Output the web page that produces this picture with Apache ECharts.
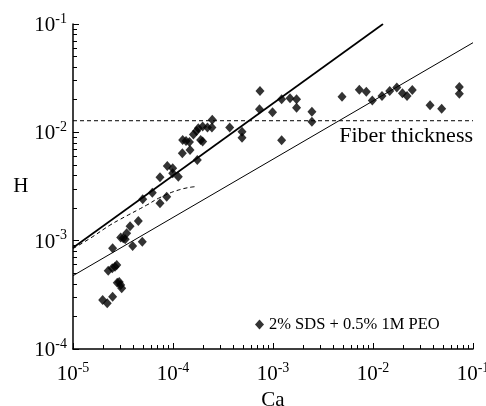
<!DOCTYPE html>
<html><head><meta charset="utf-8">
<script src="https://cdn.jsdelivr.net/npm/echarts@6/dist/echarts.min.js"></script>
<style>html,body{margin:0;padding:0;background:#fff}#c{width:486px;height:406px}</style>
</head><body><div id="c"></div>
<script>
// ---- data ----
const xTickExps = [-5, -4, -3, -2, -1];
const yTickExps = [-4, -3, -2, -1];
const minorMultipliers = [2, 3, 4, 5, 6, 7, 8, 9];
const seriesName = '2% SDS + 0.5% 1M PEO';
const caValues = [1.98e-5,2.20e-5,2.49e-5,2.25e-5,2.47e-5,2.63e-5,2.74e-5,2.77e-5,2.90e-5,3.00e-5,3.07e-5,2.49e-5,3.00e-5,3.18e-5,3.33e-5,3.44e-5,3.72e-5,4.50e-5,3.95e-5,4.93e-5,4.98e-5,6.21e-5,7.41e-5,8.65e-5,7.41e-5,8.77e-5,9.93e-5,9.93e-5,1.13e-4,1.24e-4,1.48e-4,1.25e-4,1.35e-4,1.46e-4,1.75e-4,1.60e-4,1.72e-4,1.89e-4,1.98e-4,1.79e-4,1.98e-4,2.21e-4,2.45e-4,2.47e-4,3.69e-4,4.90e-4,4.90e-4,7.33e-4,7.41e-4,9.89e-4,1.22e-3,1.48e-3,1.72e-3,1.72e-3,2.45e-3,2.45e-3,1.22e-3,4.90e-3,7.30e-3,8.57e-3,9.84e-3,1.23e-2,1.47e-2,1.73e-2,1.97e-2,2.19e-2,2.47e-2,3.72e-2,4.86e-2,7.30e-2,7.30e-2];
const hValues = [2.83e-4,2.64e-4,3.03e-4,5.27e-4,5.55e-4,5.74e-4,5.95e-4,4.08e-4,4.15e-4,3.89e-4,3.63e-4,8.49e-4,1.07e-3,1.05e-3,1.03e-3,1.17e-3,1.36e-3,1.52e-3,8.91e-4,9.77e-4,2.41e-3,2.77e-3,2.21e-3,2.54e-3,3.84e-3,4.89e-3,4.66e-3,4.18e-3,3.89e-3,6.40e-3,6.86e-3,8.49e-3,8.31e-3,8.13e-3,5.55e-3,9.54e-3,1.03e-2,8.49e-3,8.22e-3,1.09e-2,1.13e-2,1.11e-2,1.11e-2,1.31e-2,1.11e-2,1.01e-2,8.90e-3,1.63e-2,2.41e-2,1.53e-2,2.02e-2,2.06e-2,2.02e-2,1.69e-2,1.55e-2,1.25e-2,8.43e-3,2.13e-2,2.47e-2,2.37e-2,1.97e-2,2.16e-2,2.41e-2,2.60e-2,2.29e-2,2.17e-2,2.46e-2,1.78e-2,1.65e-2,2.62e-2,2.27e-2];
const thickLineCa = [1e-5, 1.26e-2];
const thickLineH = [8.6e-4, 0.1];
const thinLineCa = [1e-5, 0.1];
const thinLineH = [4.75e-4, 0.0672];
const fiberCa = [1e-5, 0.1];
const fiberH = [0.0128, 0.0128];
const curveCa = [1e-5, 1.48e-5, 2.34e-5, 2.95e-5, 5.46e-5, 7.41e-5, 1.17e-4, 1.66e-4];
const curveH = [8.45e-4, 1.05e-3, 1.39e-3, 1.57e-3, 2.13e-3, 2.50e-3, 2.96e-3, 3.15e-3];
const fiberLabel = 'Fiber thickness';

// ---- chart ----
const zip = (a, b) => a.map((v, i) => [v, b[i]]);
const minorVals = (exps) => {
  const out = [];
  for (let i = 0; i < exps.length - 1; i++) minorMultipliers.forEach(m => out.push(m * Math.pow(10, exps[i])));
  return out;
};
const FONT = '"Liberation Serif", "Times New Roman", serif';
const expLabel = v => '{b|10}{s|' + Math.round(Math.log10(v)) + '}';
const rich = {
  b: { fontFamily: FONT, fontSize: 21, color: '#000', verticalAlign: 'bottom' },
  s: { fontFamily: FONT, fontSize: 14, color: '#000', verticalAlign: 'top', padding: [0, 0, 10, 0] }
};
const xMin = Math.pow(10, xTickExps[0]), xMax = Math.pow(10, xTickExps[xTickExps.length - 1]);
const yMin = Math.pow(10, yTickExps[0]), yMax = Math.pow(10, yTickExps[yTickExps.length - 1]);

const chart = echarts.init(document.getElementById('c'), null, { renderer: 'canvas' });
chart.setOption({
  animation: false,
  backgroundColor: '#fff',
  grid: { left: 73, right: 13, top: 24, bottom: 57, containLabel: false, outerBoundsMode: 'none' },
  xAxis: [{
    type: 'log', logBase: 10, min: xMin, max: xMax, position: 'bottom',
    name: 'Ca', nameLocation: 'middle', nameGap: 33,
    nameTextStyle: { fontFamily: FONT, fontSize: 21, color: '#000' },
    axisLine: { lineStyle: { color: '#000', width: 1.5 } },
    axisTick: { inside: true, length: 6, lineStyle: { color: '#000', width: 1 } },
    axisLabel: { formatter: expLabel, rich: rich, margin: 12, showMaxLabel: true, hideOverlap: false },
    splitLine: { show: false }
  }, {
    type: 'log', logBase: 10, min: xMin, max: xMax, position: 'bottom',
    axisLine: { show: false },
    axisTick: { show: true, inside: true, length: 4, customValues: minorVals(xTickExps), lineStyle: { color: '#000', width: 1 } },
    axisLabel: { show: false }, splitLine: { show: false }
  }],
  yAxis: [{
    type: 'log', logBase: 10, min: yMin, max: yMax, position: 'left',
    name: 'H', nameLocation: 'middle', nameGap: 43, nameRotate: 0,
    nameTextStyle: { fontFamily: FONT, fontSize: 21, color: '#000' },
    axisLine: { lineStyle: { color: '#000', width: 1.5 } },
    axisTick: { inside: true, length: 6, lineStyle: { color: '#000', width: 1 } },
    axisLabel: { formatter: expLabel, rich: rich, margin: 6, hideOverlap: false },
    splitLine: { show: false }
  }, {
    type: 'log', logBase: 10, min: yMin, max: yMax, position: 'left',
    axisLine: { show: false },
    axisTick: { show: true, inside: true, length: 4, customValues: minorVals(yTickExps), lineStyle: { color: '#000', width: 1 } },
    axisLabel: { show: false }, splitLine: { show: false }
  }],
  legend: {
    data: [seriesName], left: 250, top: 311, icon: 'diamond', itemWidth: 9, itemHeight: 10, itemGap: 4,
    textStyle: { fontFamily: FONT, fontSize: 16.5, color: '#000' }
  },
  graphic: [{
    type: 'text', right: 13, top: 125,
    style: { text: fiberLabel, font: '22px ' + FONT, fill: '#000' }
  }],
  series: [
    { type: 'line', data: zip(thickLineCa, thickLineH), symbol: 'none', lineStyle: { color: '#000', width: 1.7 }, clip: true, silent: true },
    { type: 'line', data: zip(thinLineCa, thinLineH), symbol: 'none', lineStyle: { color: '#000', width: 1 }, clip: true, silent: true },
    { type: 'line', data: zip(fiberCa, fiberH), symbol: 'none', lineStyle: { color: '#000', width: 1, type: [4, 3] }, silent: true },
    { type: 'line', data: zip(curveCa, curveH), symbol: 'none', smooth: true, lineStyle: { color: '#000', width: 1, type: [4, 3] }, silent: true },
    { name: seriesName, type: 'scatter', data: zip(caValues, hValues), symbol: 'diamond', symbolSize: [9, 10], itemStyle: { color: '#000' } }
  ]
});
</script></body></html>
